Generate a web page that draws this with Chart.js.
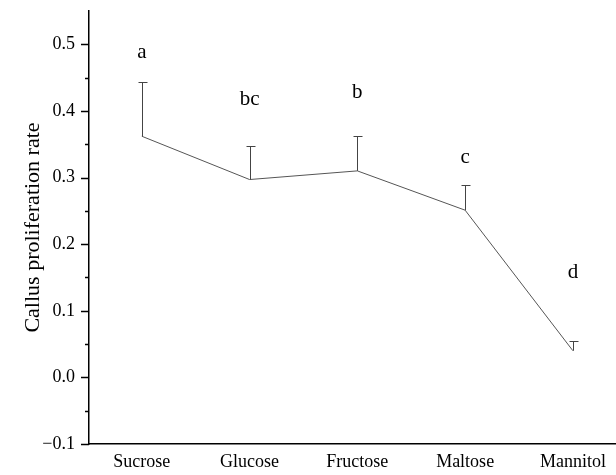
<!doctype html>
<html>
<head>
<title>Callus proliferation</title>
<script src="https://cdn.jsdelivr.net/npm/chart.js@4.4.1/dist/chart.umd.min.js"></script>
<style>
  html, body { margin: 0; padding: 0; background: #fff; }
  #wrap { width: 616px; height: 475px; position: relative; }
</style>
</head>
<body>
<div id="wrap"><canvas id="canvas"></canvas></div>
<script>
// carbon sources and measured rates
var sugars = ['Sucrose', 'Glucose', 'Fructose', 'Maltose', 'Mannitol'];
var rate = [0.362, 0.297, 0.310, 0.251, 0.040];
var errUp = [0.081, 0.051, 0.053, 0.038, 0.015];
var letters = ['a', 'bc', 'b', 'c', 'd'];
var letterY = [0.488, 0.417, 0.428, 0.330, 0.158];
var yTicks = [-0.1, 0.0, 0.1, 0.2, 0.3, 0.4, 0.5];

var serif = '"Liberation Serif", "Times New Roman", serif';

// upper error bars, letters and the y axis tick marks
var extras = {
  id: 'extras',
  afterDatasetsDraw: function(chart) {
    var ctx = chart.ctx;
    var xs = chart.scales.x, ys = chart.scales.y;
    ctx.save();
    ctx.strokeStyle = '#444';
    ctx.lineWidth = 1;
    for (var i = 0; i < rate.length; i++) {
      var px = Math.round(xs.getPixelForValue(i)) + 0.5;
      var y0 = ys.getPixelForValue(rate[i]);
      var y1 = Math.round(ys.getPixelForValue(rate[i] + errUp[i])) + 0.5;
      ctx.beginPath();
      ctx.moveTo(px, y0);
      ctx.lineTo(px, y1);
      ctx.moveTo(px - 4, y1);
      ctx.lineTo(px + 5, y1);
      ctx.stroke();
    }
    ctx.fillStyle = '#000';
    ctx.font = '21px ' + serif;
    ctx.textAlign = 'center';
    ctx.textBaseline = 'middle';
    for (var j = 0; j < letters.length; j++) {
      ctx.fillText(letters[j], xs.getPixelForValue(j), ys.getPixelForValue(letterY[j]));
    }
    // major and minor ticks pointing out of the y axis
    ctx.strokeStyle = '#000';
    ctx.lineWidth = 1.5;
    var ax = ys.right;
    for (var k = -2; k <= 10; k++) {
      var v = k * 0.05;
      var py = Math.round(ys.getPixelForValue(v)) + 0.5;
      var len = (k % 2 === 0) ? 8 : 4;
      ctx.beginPath();
      ctx.moveTo(ax - len, py);
      ctx.lineTo(ax, py);
      ctx.stroke();
    }
    ctx.restore();
  }
};

var ctx = document.getElementById('canvas').getContext('2d');
new Chart(ctx, {
  type: 'line',
  data: {
    datasets: [{
      data: rate.map(function(v, i) { return { x: i, y: v }; }),
      borderColor: '#555',
      borderWidth: 1,
      pointRadius: 0,
      tension: 0,
      fill: false
    }]
  },
  options: {
    responsive: true,
    maintainAspectRatio: false,
    animation: false,
    layout: { padding: { top: 11, right: 0, left: 0, bottom: 0 } },
    plugins: {
      legend: { display: false },
      tooltip: { enabled: false }
    },
    scales: {
      x: {
        type: 'linear',
        min: -0.49,
        max: 4.4,
        afterBuildTicks: function(scale) {
          scale.ticks = sugars.map(function(s, i) { return { value: i }; });
        },
        afterFit: function(scale) {
          scale.height = 31;
          scale.paddingLeft = 0;
          scale.paddingRight = 0;
        },
        grid: { display: false, drawTicks: false },
        border: { display: true, color: '#000', width: 1.5 },
        ticks: {
          color: '#000',
          padding: 7,
          maxRotation: 0,
          font: { family: serif, size: 18 },
          callback: function(v) { return sugars[v] || ''; }
        }
      },
      y: {
        min: -0.1,
        max: 0.55,
        afterBuildTicks: function(scale) {
          scale.ticks = yTicks.map(function(v) { return { value: v }; });
        },
        afterFit: function(scale) {
          scale.width = 89;
          scale.paddingTop = 0;
          scale.paddingBottom = 0;
        },
        grid: { display: false, drawTicks: false },
        border: { display: true, color: '#000', width: 1.5 },
        ticks: {
          color: '#000',
          padding: 14,
          font: { family: serif, size: 18 },
          callback: function(v) {
            var s = Math.abs(v).toFixed(1);
            return v < -1e-9 ? '\u2212' + s : s;
          }
        },
        title: {
          display: true,
          text: 'Callus proliferation rate',
          color: '#000',
          padding: { top: 20, bottom: 0 },
          font: { family: serif, size: 22 }
        }
      }
    }
  },
  plugins: [extras]
});
</script>
</body>
</html>
